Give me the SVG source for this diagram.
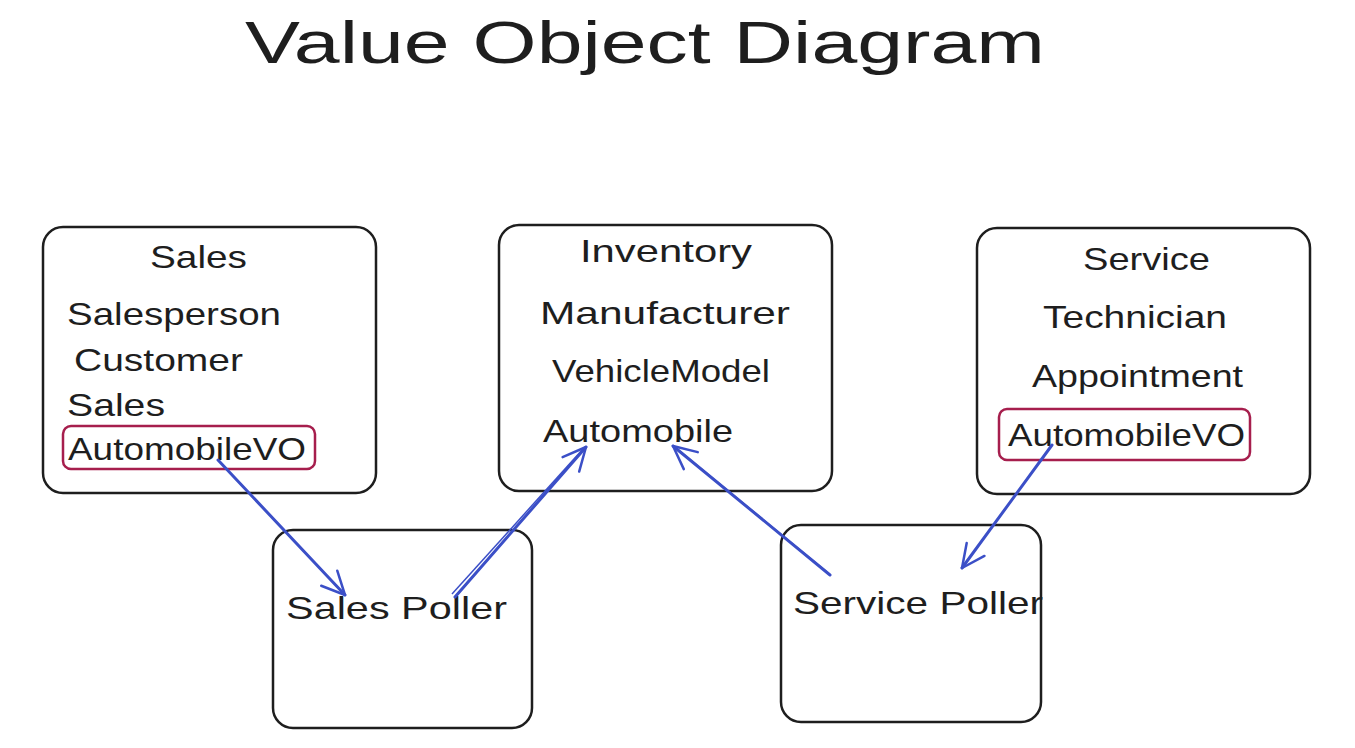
<svg xmlns="http://www.w3.org/2000/svg" width="1355" height="748" viewBox="0 0 1355 748">
<style>
.box{fill:#fff;stroke:#1e1e1e;stroke-width:2.5}
.vo{fill:none;stroke:#a61e4d;stroke-width:2.5}
.t{font-family:"Liberation Sans","DejaVu Sans",sans-serif;font-size:32px;fill:#1e1e1e}
.title{font-family:"Liberation Sans","DejaVu Sans",sans-serif;font-size:60px;fill:#1e1e1e}
.arr{fill:none;stroke:#3b4fc7;stroke-width:3;stroke-linecap:round;marker-end:url(#ah)}
</style>
<defs>
<marker id="ah" viewBox="0 0 12 12" refX="11" refY="6" markerWidth="12" markerHeight="12" markerUnits="userSpaceOnUse" orient="auto" overflow="visible">
<path d="M-12,-5 L11,6 L-12,17" fill="none" stroke="#3b4fc7" stroke-width="2.5" stroke-linecap="round" stroke-linejoin="round"/>
</marker>
</defs>
<rect width="1355" height="748" fill="#fff"/>
<text class="title" x="245" y="63" textLength="800" lengthAdjust="spacingAndGlyphs">Value Object Diagram</text>

<g id="sales">
<rect class="box" x="43" y="227" width="333" height="266" rx="20"/>
<text class="t" x="150" y="268" textLength="97" lengthAdjust="spacingAndGlyphs">Sales</text>
<text class="t" x="67" y="325" textLength="214" lengthAdjust="spacingAndGlyphs">Salesperson</text>
<text class="t" x="74" y="371" textLength="169" lengthAdjust="spacingAndGlyphs">Customer</text>
<text class="t" x="67" y="416" textLength="98" lengthAdjust="spacingAndGlyphs">Sales</text>
<rect class="vo" x="63" y="426" width="252" height="43" rx="8"/>
<text class="t" x="68" y="460" textLength="238" lengthAdjust="spacingAndGlyphs">AutomobileVO</text>
</g>

<g id="inventory">
<rect class="box" x="499" y="225" width="333" height="266" rx="20"/>
<text class="t" x="580" y="262" textLength="172" lengthAdjust="spacingAndGlyphs">Inventory</text>
<text class="t" x="540" y="324" textLength="250" lengthAdjust="spacingAndGlyphs">Manufacturer</text>
<text class="t" x="552" y="382" textLength="218" lengthAdjust="spacingAndGlyphs">VehicleModel</text>
<text class="t" x="543" y="442" textLength="190" lengthAdjust="spacingAndGlyphs">Automobile</text>
</g>

<g id="service">
<rect class="box" x="977" y="228" width="333" height="266" rx="20"/>
<text class="t" x="1083" y="270" textLength="127" lengthAdjust="spacingAndGlyphs">Service</text>
<text class="t" x="1043" y="328" textLength="184" lengthAdjust="spacingAndGlyphs">Technician</text>
<text class="t" x="1032" y="387" textLength="211" lengthAdjust="spacingAndGlyphs">Appointment</text>
<rect class="vo" x="999" y="409" width="251" height="51" rx="8"/>
<text class="t" x="1008" y="446" textLength="237" lengthAdjust="spacingAndGlyphs">AutomobileVO</text>
</g>

<g id="sales-poller">
<rect class="box" x="273" y="530" width="259" height="198" rx="20"/>
<text class="t" x="286" y="619" textLength="221" lengthAdjust="spacingAndGlyphs">Sales Poller</text>
</g>

<g id="service-poller">
<rect class="box" x="781" y="525" width="260" height="197" rx="20"/>
<text class="t" x="793" y="614" textLength="250" lengthAdjust="spacingAndGlyphs">Service Poller</text>
</g>

<g id="connectors">
<path class="arr" d="M218,460 L345,595"/>
<path class="arr" d="M455,597 L586,447"/>
<path d="M452,594 L583,449" fill="none" stroke="#3b4fc7" stroke-width="1.5"/>
<path class="arr" d="M830,575 L673,446"/>
<path d="M827,572 L676,448" fill="none" stroke="#3b4fc7" stroke-width="1.5"/>
<path class="arr" d="M1052,445 L962,568"/>
</g>
</svg>
